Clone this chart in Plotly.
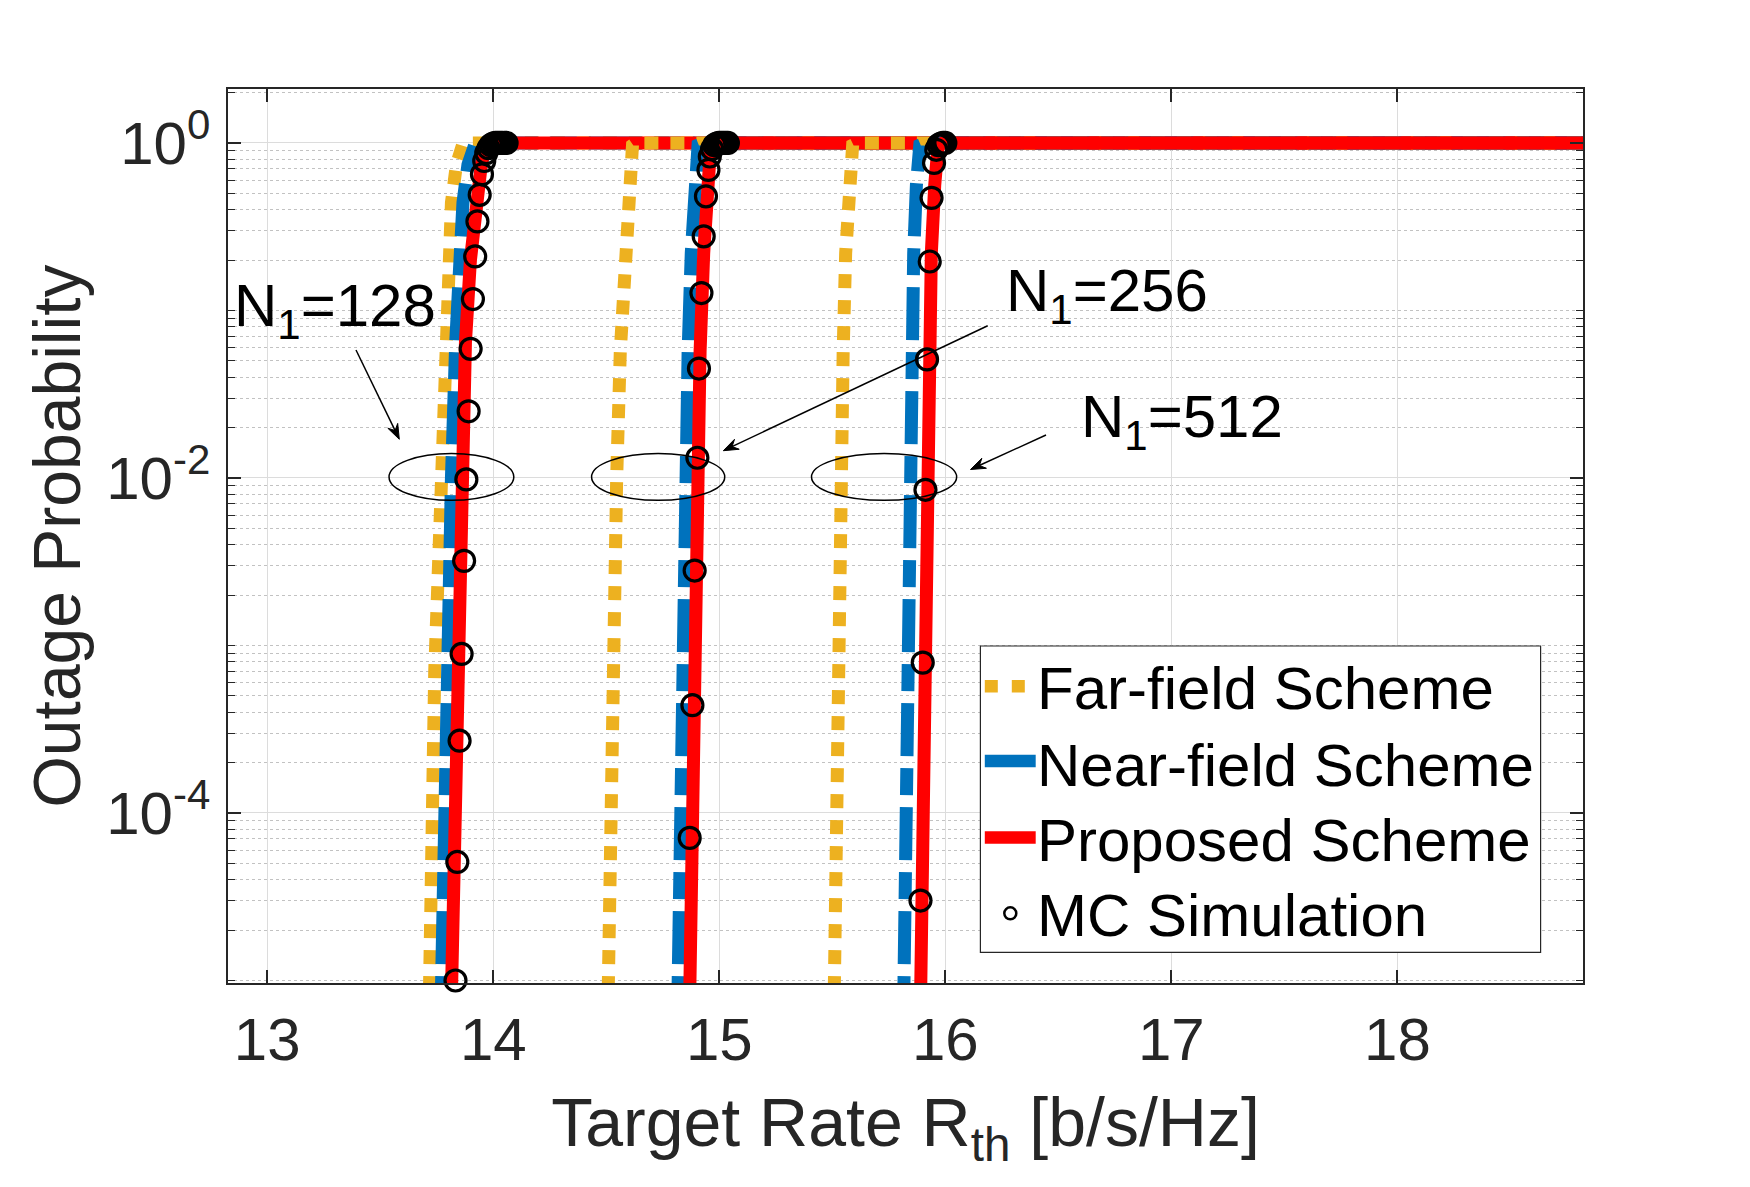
import math
import plotly.graph_objects as go

outage_128 = [3e-6, 1e-5, 7e-5, 7e-4, 1e-2, 0.065, 0.20, 0.44, 0.74, 0.91, 0.99, 1.0, 1.0]
far_rate_128 = [13.712, 13.722, 13.729, 13.741, 13.766, 13.785, 13.797, 13.815, 13.837, 13.852, 13.866, 13.90, 19.0]
near_rate_128 = [13.764, 13.770, 13.780, 13.790, 13.815, 13.834, 13.851, 13.866, 13.888, 13.905, 13.920, 13.95, 19.0]
prop_rate_128 = [13.808, 13.815, 13.829, 13.840, 13.856, 13.877, 13.899, 13.922, 13.947, 13.962, 13.975, 14.0, 19.0]

outage_256 = [3e-6, 1e-5, 1e-4, 1e-3, 1e-2, 0.057, 0.22, 0.56, 0.85, 0.97, 1.0, 1.0]
far_rate_256 = [14.503, 14.508, 14.518, 14.530, 14.546, 14.562, 14.582, 14.598, 14.608, 14.616, 14.63, 19.0]
near_rate_256 = [14.812, 14.817, 14.828, 14.837, 14.851, 14.862, 14.876, 14.891, 14.899, 14.906, 14.93, 19.0]
prop_rate_256 = [14.864, 14.869, 14.881, 14.891, 14.903, 14.915, 14.931, 14.943, 14.952, 14.962, 14.99, 19.0]

outage_512 = [3e-6, 1e-5, 1e-4, 1e-3, 1e-2, 0.057, 0.22, 0.56, 0.85, 0.97, 1.0, 1.0]
far_rate_512 = [15.504, 15.508, 15.515, 15.526, 15.535, 15.548, 15.559, 15.572, 15.582, 15.590, 15.61, 19.0]
near_rate_512 = [15.812, 15.816, 15.822, 15.828, 15.838, 15.850, 15.860, 15.872, 15.880, 15.887, 15.91, 19.0]
prop_rate_512 = [15.886, 15.891, 15.899, 15.905, 15.916, 15.928, 15.938, 15.953, 15.961, 15.968, 15.99, 19.0]

# Monte Carlo points
mc_rate_128 = [13.833, 13.841, 13.851, 13.860, 13.871, 13.881, 13.891, 13.900, 13.910, 13.920, 13.930, 13.940,
               13.950, 13.960, 13.969, 13.979, 13.989, 13.999, 14.009, 14.019, 14.029, 14.039, 14.049, 14.059]
mc_out_128 = [1.0e-5, 5.1e-5, 2.7e-4, 8.9e-4, 3.2e-3, 9.8e-3, 0.025, 0.059, 0.117, 0.21, 0.34, 0.49,
              0.65, 0.78, 0.87, 0.93, 0.97, 0.99, 1, 1, 1, 1, 1, 1]
mc_rate_256 = [14.869, 14.881, 14.891, 14.903, 14.910, 14.921, 14.931, 14.941, 14.952, 14.958, 14.968, 14.978,
               14.988, 14.998, 15.008, 15.018, 15.028, 15.038]
mc_out_256 = [7.1e-5, 4.4e-4, 2.8e-3, 0.0132, 0.045, 0.127, 0.277, 0.48, 0.69, 0.83, 0.92, 0.97,
              0.99, 1, 1, 1, 1, 1]
mc_rate_512 = [15.890, 15.900, 15.912, 15.919, 15.931, 15.939, 15.950, 15.960, 15.970, 15.980, 15.990, 16.000]
mc_out_512 = [3.0e-5, 7.9e-4, 8.5e-3, 0.051, 0.196, 0.47, 0.76, 0.91, 0.97, 0.99, 1, 1]

rate_ticks = [13, 14, 15, 16, 17, 18]
prob_ticks = [1e-4, 1e-2, 1]
prob_labels = ["10<sup>-4</sup>", "10<sup>-2</sup>", "10<sup>0</sup>"]
array_labels = ["N<sub>1</sub>=128", "N<sub>1</sub>=256", "N<sub>1</sub>=512"]
legend_names = ["Far-field Scheme", "Near-field Scheme", "Proposed Scheme", "MC Simulation"]

FONT = "Liberation Sans, Arial, sans-serif"
GREY = "#262626"
COLORS = ["#EDB120", "#0072BD", "#FF0000"]
DASHES = ["14px,12px", "53px,12px,27px,12px", "solid"]

# page layout (the html body adds 8px around the figure)
W, H = 1734, 1171
ML, MT, MR, MB = 220, 81, 159, 196
PL, PT = 8 + ML, 8 + MT
PW, PH = W - ML - MR, H - MT - MB


def paper(px, py):
    # page pixel -> paper fraction of the plot area
    return (px - PL) / PW, (PT + PH - py) / PH


groups = [
    (outage_128, far_rate_128, near_rate_128, prop_rate_128, mc_rate_128, mc_out_128),
    (outage_256, far_rate_256, near_rate_256, prop_rate_256, mc_rate_256, mc_out_256),
    (outage_512, far_rate_512, near_rate_512, prop_rate_512, mc_rate_512, mc_out_512),
]

fig = go.Figure()
for outage, far, near, prop, mc_x, mc_y in groups:
    for j, rate in enumerate([far, near, prop]):
        fig.add_trace(go.Scatter(x=rate, y=outage, mode="lines", name=legend_names[j],
                                 line=dict(color=COLORS[j], width=13, dash=DASHES[j]),
                                 showlegend=False))
    fig.add_trace(go.Scatter(x=mc_x, y=mc_y, mode="markers", name=legend_names[3],
                             marker=dict(symbol="circle-open", size=21, color="black",
                                         line=dict(width=3.2, color="black")),
                             cliponaxis=False, showlegend=False))

# ellipses around the 10^-2 crossing of each array size
for x0, x1 in [(13.539, 14.091), (14.435, 15.024), (15.408, 16.050)]:
    fig.add_shape(type="circle", xref="x", yref="y", x0=x0, x1=x1, y0=0.00735, y1=0.01400,
                  line=dict(color="black", width=1.5))

# labels (annotation y on a log axis is given in log10 units)
for txt, x, y in zip(array_labels, [12.843, 16.259, 16.590], [-0.995, -0.906, -1.658]):
    fig.add_annotation(x=x, y=y, xref="x", yref="y", text=txt, showarrow=False,
                       xanchor="left", yanchor="middle",
                       font=dict(family=FONT, size=60, color="black"))

# arrows from the labels to the ellipses (page pixels: tail -> head)
for (tx, ty), (hx, hy) in [((356, 350), (399.3, 439.3)),
                           ((987.7, 325.7), (723.3, 450.7)),
                           ((1046, 435), (970.5, 469.5))]:
    ux, uy = hx - tx, hy - ty
    n = math.hypot(ux, uy)
    ux, uy = ux / n, uy / n
    vx, vy = -uy, ux
    L, Wd = 15.0, 5.5
    pts = [(hx, hy),
           (hx - L * ux + Wd * vx, hy - L * uy + Wd * vy),
           (hx - 0.65 * L * ux, hy - 0.65 * L * uy),
           (hx - L * ux - Wd * vx, hy - L * uy - Wd * vy)]
    a0, b0 = paper(tx, ty)
    a1, b1 = paper(hx - 0.6 * L * ux, hy - 0.6 * L * uy)
    fig.add_shape(type="line", xref="paper", yref="paper", x0=a0, y0=b0, x1=a1, y1=b1,
                  line=dict(color="black", width=1.5))
    path = "M" + " L".join("%.5f,%.5f" % paper(px, py) for px, py in pts) + " Z"
    fig.add_shape(type="path", xref="paper", yref="paper", path=path,
                  fillcolor="black", line=dict(color="black", width=1))

# legend drawn by hand so its rows keep the original spacing
bx0, by1 = paper(980.4, 646)
bx1, by0 = paper(1540.6, 952.3)
fig.add_shape(type="rect", xref="paper", yref="paper", x0=bx0, x1=bx1, y0=by0, y1=by1,
              fillcolor="white", line=dict(color=GREY, width=1.2))
sample_rows = [686.3, 761.0, 837.5]
sample_ends = [1026.0, 1035.7, 1035.7]
for j in range(3):
    sx0, sy = paper(984.8, sample_rows[j])
    sx1, _ = paper(sample_ends[j], sample_rows[j])
    fig.add_shape(type="line", xref="paper", yref="paper", x0=sx0, x1=sx1, y0=sy, y1=sy,
                  line=dict(color=COLORS[j], width=12.5, dash="13px,14px" if j == 0 else "solid"))
cx, cy = paper(1010.3, 913.3)
fig.add_shape(type="circle", xref="paper", yref="paper", xsizemode="pixel", ysizemode="pixel",
              xanchor=cx, yanchor=cy, x0=-6, x1=6, y0=-6, y1=6,
              line=dict(color="black", width=2.5))
text_x, _ = paper(1034.5, 0)
for name, row in zip(legend_names, [688, 765, 840, 915.8]):
    _, ty = paper(0, row)
    fig.add_annotation(x=text_x, y=ty, xref="paper", yref="paper", text=name, showarrow=False,
                       xanchor="left", yanchor="middle",
                       font=dict(family=FONT, size=60, color="black"))

minor_vals = [k * 10.0 ** e for e in range(-6, 1) for k in range(1, 10)
              if not (k == 1 and e in (-4, -2, 0))]

fig.update_layout(
    width=W, height=H,
    margin=dict(l=ML, r=MR, t=MT, b=MB),
    paper_bgcolor="white", plot_bgcolor="white",
    font=dict(family=FONT, color=GREY),
    showlegend=False,
    xaxis=dict(
        range=[12.8265, 18.821], tickvals=rate_ticks,
        ticks="inside", ticklen=13, tickwidth=1.5, tickcolor=GREY,
        showline=True, linecolor=GREY, linewidth=1.5, mirror="ticks",
        showgrid=True, gridcolor="#dcdcdc", gridwidth=1, zeroline=False,
        tickfont=dict(family=FONT, size=60, color=GREY), ticklabelstandoff=3,
        title=dict(text="Target Rate R<sub>th</sub> [b/s/Hz]", standoff=27,
                   font=dict(family=FONT, size=68, color=GREY)),
        automargin=False,
    ),
    yaxis=dict(
        type="log", range=[-5.015, 0.322],
        tickvals=prob_ticks, ticktext=prob_labels,
        ticks="inside", ticklen=13, tickwidth=1.5, tickcolor=GREY,
        showline=True, linecolor=GREY, linewidth=1.5, mirror="ticks",
        showgrid=True, gridcolor="#dcdcdc", gridwidth=1, zeroline=False,
        minor=dict(tickvals=minor_vals, ticks="inside", ticklen=7, tickwidth=1, tickcolor=GREY,
                   showgrid=True, gridcolor="#c2c2c2", griddash="dot", gridwidth=1),
        tickfont=dict(family=FONT, size=60, color=GREY), ticklabelstandoff=4,
        title=dict(text="Outage Probability", standoff=4,
                   font=dict(family=FONT, size=66, color=GREY)),
        automargin=False,
    ),
)

fig.write_html("out.html")
